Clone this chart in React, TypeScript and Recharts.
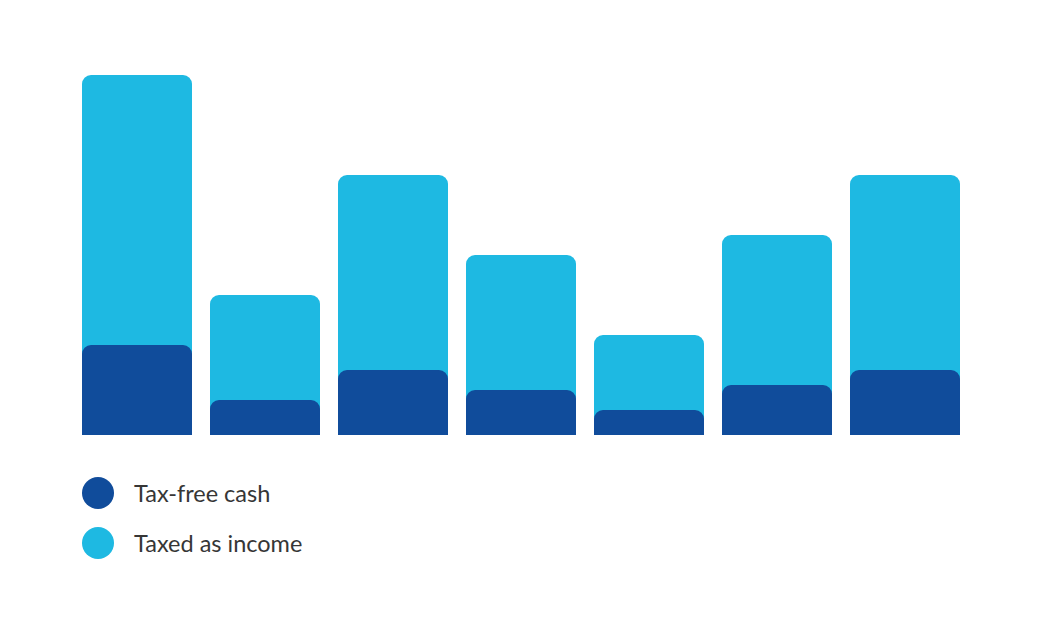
import { Bar, BarChart, XAxis, YAxis } from "recharts"

// values (total pot vs tax-free part)
const CATEGORIES = ["A", "B", "C", "D", "E", "F", "G"]
const TOTAL = [18, 7, 13, 9, 5, 10, 13]
const TAX_FREE = [4.5, 1.75, 3.25, 2.25, 1.25, 2.5, 3.25]

const DARK = "#104c9b"
const LIGHT = "#1eb9e2"
const LEGEND_ITEMS = [
  { label: "Tax-free cash", color: DARK },
  { label: "Taxed as income", color: LIGHT },
]

const data = CATEGORIES.map((c, i) => ({ name: c, total: TOTAL[i], taxFree: TAX_FREE[i] }))

function LegendBox() {
  return (
    <div style={{ display: "flex", flexDirection: "column", gap: 18 }}>
      {LEGEND_ITEMS.map((it) => (
        <div key={it.label} style={{ display: "flex", alignItems: "center", height: 32 }}>
          <span
            style={{ width: 32, height: 32, borderRadius: "50%", background: it.color, display: "inline-block" }}
          />
          <span style={{ marginLeft: 20, fontSize: 23.5, color: "#363636", fontFamily: "Lato, sans-serif" }}>
            {it.label}
          </span>
        </div>
      ))}
    </div>
  )
}

export default function App() {
  return (
    <div style={{ position: "absolute", left: 0, top: 0, width: 1042, height: 625, background: "#fff" }}>
      <BarChart width={1042} height={625} data={data} margin={{ left: 73, right: 73, top: 75, bottom: 190 }}>
        <XAxis dataKey="name" xAxisId="back" hide />
        <XAxis dataKey="name" xAxisId="front" hide />
        <YAxis hide domain={[0, 18]} />
        <Bar xAxisId="back" dataKey="total" fill={LIGHT} barSize={110} radius={[9, 9, 0, 0]} isAnimationActive={false} />
        <Bar xAxisId="front" dataKey="taxFree" fill={DARK} barSize={110} radius={[9, 9, 0, 0]} isAnimationActive={false} />
      </BarChart>
      <div style={{ position: "absolute", left: 82, top: 477 }}>
        <LegendBox />
      </div>
    </div>
  )
}
